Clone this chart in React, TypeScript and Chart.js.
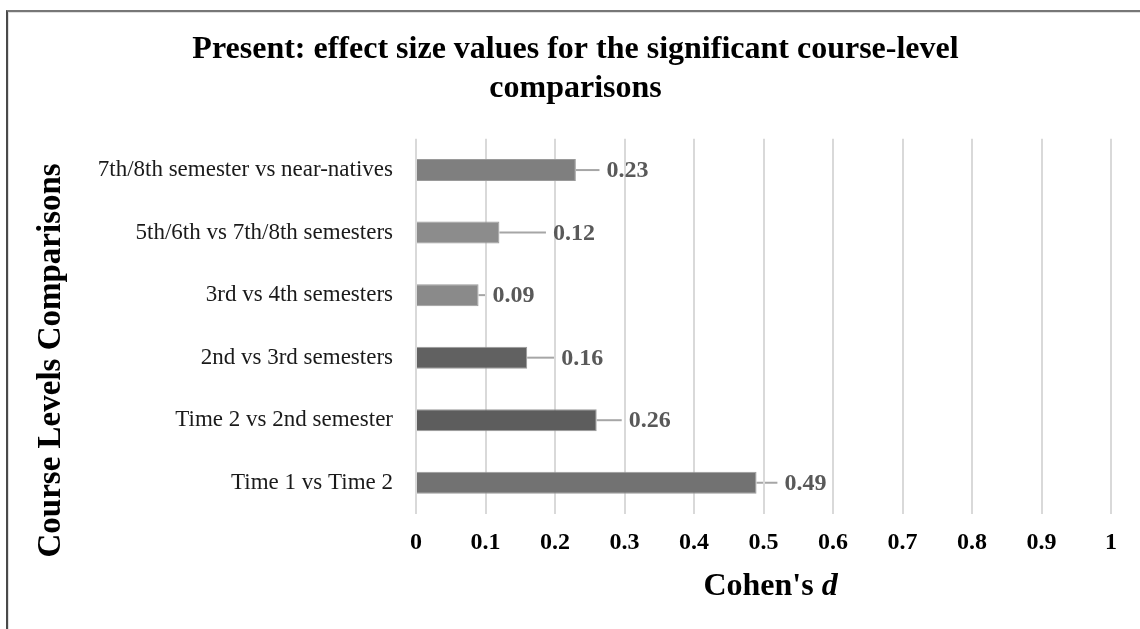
import { useEffect, useRef } from "react";
import { Chart, registerables } from "chart.js";

Chart.register(...registerables);

const chartTitle = ["Present: effect size values for the significant course-level", "comparisons"];
const categories = [
  "7th/8th semester vs near-natives",
  "5th/6th vs 7th/8th semesters",
  "3rd vs 4th semesters",
  "2nd vs 3rd semesters",
  "Time 2 vs 2nd semester",
  "Time 1 vs Time 2",
];
const effectSizes = [0.23, 0.12, 0.09, 0.16, 0.26, 0.49];
const errorPlus = [0.034, 0.067, 0.01, 0.039, 0.036, 0.03];
const xTickLabels = ["0", "0.1", "0.2", "0.3", "0.4", "0.5", "0.6", "0.7", "0.8", "0.9", "1"];
const barColors = ["#7f7f7f", "#8c8c8c", "#8a8a8a", "#616161", "#5d5d5d", "#727272"];
const yAxisTitle = "Course Levels Comparisons";
const xAxisTitleMain = "Cohen's ";
const xAxisTitleItalic = "d";

const SERIF = '"Liberation Serif", "Times New Roman", serif';

const errorBarsAndLabels = {
  id: "errorBarsAndLabels",
  beforeDraw(chart: any) {
    const { ctx } = chart;
    const x = chart.scales.x;
    const meta = chart.getDatasetMeta(0);
    if (!x || !meta) return;
    ctx.save();
    meta.data.forEach((bar: any, i: number) => {
      const xEnd = x.getPixelForValue(effectSizes[i] + errorPlus[i]);
      ctx.strokeStyle = "#a6a6a6";
      ctx.lineWidth = 2;
      ctx.beginPath();
      ctx.moveTo(bar.x, bar.y);
      ctx.lineTo(xEnd, bar.y);
      ctx.stroke();
    });
    ctx.restore();
  },
  afterDatasetsDraw(chart: any) {
    const { ctx } = chart;
    const x = chart.scales.x;
    const meta = chart.getDatasetMeta(0);
    ctx.save();
    meta.data.forEach((bar: any, i: number) => {
      const xEnd = x.getPixelForValue(effectSizes[i] + errorPlus[i]);
      ctx.fillStyle = "#595959";
      ctx.font = `bold 24px ${SERIF}`;
      ctx.textAlign = "left";
      ctx.textBaseline = "middle";
      ctx.fillText(effectSizes[i].toFixed(2), xEnd + 7, bar.y + 1);
    });
    ctx.restore();
  },
};

const axisTitles = {
  id: "axisTitles",
  afterDraw(chart: any) {
    const { ctx, chartArea } = chart;
    ctx.save();
    ctx.fillStyle = "#000";
    // x axis title
    ctx.font = `bold 32px ${SERIF}`;
    const w1 = ctx.measureText(xAxisTitleMain).width;
    ctx.font = `italic bold 32px ${SERIF}`;
    const w2 = ctx.measureText(xAxisTitleItalic).width;
    const cx = (chartArea.left + chartArea.right) / 2 + 7;
    const startX = cx - (w1 + w2) / 2;
    const baseY = chartArea.bottom + 81;
    ctx.textAlign = "left";
    ctx.textBaseline = "alphabetic";
    ctx.font = `bold 32px ${SERIF}`;
    ctx.fillText(xAxisTitleMain, startX, baseY);
    ctx.font = `italic bold 32px ${SERIF}`;
    ctx.fillText(xAxisTitleItalic, startX + w1, baseY);
    // y axis title
    ctx.translate(51, (chartArea.top + chartArea.bottom) / 2 + 34);
    ctx.rotate(-Math.PI / 2);
    ctx.font = `bold 33px ${SERIF}`;
    ctx.textAlign = "center";
    ctx.textBaseline = "middle";
    ctx.fillText(yAxisTitle, 0, 0);
    ctx.restore();
  },
};

export default function App() {
  const canvasRef = useRef<HTMLCanvasElement | null>(null);

  useEffect(() => {
    if (!canvasRef.current) return;
    const chart = new Chart(canvasRef.current, {
      type: "bar",
      data: {
        labels: categories,
        datasets: [
          {
            data: effectSizes,
            backgroundColor: barColors,
            borderColor: "#9a9a9a",
            borderWidth: 1,
            categoryPercentage: 1,
            barPercentage: 0.352,
          },
        ],
      },
      options: {
        indexAxis: "y",
        animation: false,
        responsive: false,
        maintainAspectRatio: false,
        layout: { padding: { left: 40, right: 29, top: 0, bottom: 0 } },
        plugins: {
          legend: { display: false },
          tooltip: { enabled: false },
          title: {
            display: true,
            text: chartTitle,
            color: "#000",
            font: { family: SERIF, size: 32, weight: "bold", lineHeight: 1.2 },
            padding: { top: 31, bottom: 31 },
          },
        },
        scales: {
          x: {
            min: 0,
            max: 1,
            ticks: {
              stepSize: 0.1,
              padding: 14,
              color: "#000",
              font: { family: SERIF, size: 24, weight: "bold" },
              callback: (_v: any, i: number) => xTickLabels[i],
            },
            grid: { color: "#d9d9d9", lineWidth: 2, drawTicks: false },
            border: { display: false },
            afterFit: (scale: any) => {
              scale.height = 115;
            },
          },
          y: {
            ticks: {
              padding: 23,
              color: "#1a1a1a",
              font: { family: SERIF, size: 23 },
            },
            grid: { display: false, drawTicks: false },
            border: { display: false },
            afterFit: (scale: any) => {
              scale.width = 376;
            },
          },
        },
      },
      plugins: [errorBarsAndLabels, axisTitles],
    } as any);
    return () => chart.destroy();
  }, []);

  return (
    <div
      style={{
        position: "fixed",
        left: 0,
        top: 0,
        width: 1140,
        height: 629,
        overflow: "hidden",
        background: "#fff",
      }}
    >
      <div
        style={{
          position: "absolute",
          left: 6,
          top: 10,
          width: 1300,
          height: 800,
          borderTop: "2px solid #777",
          borderLeft: "2px solid #4a4a4a",
          boxShadow: "inset 1px 1px 0 #e0e0e0",
        }}
      />
      <canvas
        ref={canvasRef}
        width={1140}
        height={629}
        style={{ position: "absolute", left: 0, top: 0, width: 1140, height: 629 }}
      />
    </div>
  );
}
